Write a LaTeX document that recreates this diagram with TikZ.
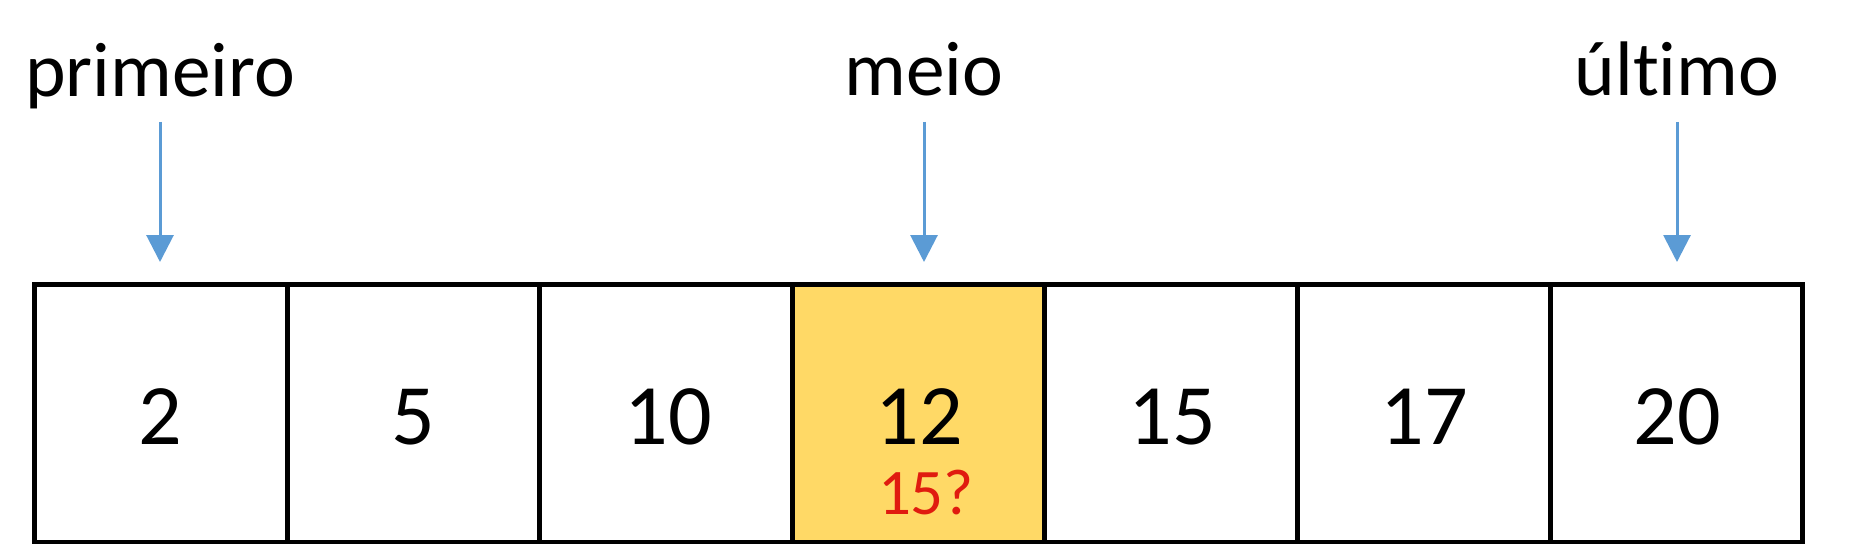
\documentclass[tikz,border=0pt]{standalone}
\usepackage{fontspec}
\setmainfont[Ligatures=NoCommon]{Carlito}
\usetikzlibrary{arrows.meta}
\definecolor{ptrblue}{HTML}{5B9BD5}
\definecolor{midyellow}{HTML}{FFD966}
\definecolor{askred}{HTML}{E01B0F}
\tikzset{
  cell/.style={draw=black, line width=5*0.02cm, minimum width=252.6*0.02cm, minimum height=258*0.02cm, inner sep=0pt},
  num/.style={inner sep=0pt, font=\fontsize{49}{54}\selectfont},
  ask/.style={inner sep=0pt, text=askred, font=\fontsize{37}{42}\selectfont},
  lbl/.style={inner sep=0pt, anchor=base, font=\fontsize{44}{50}\selectfont},
  ptr/.style={draw=ptrblue, line width=3*0.02cm, -{Triangle[width=27*0.02cm, length=27*0.02cm]}}
}
\begin{document}
\begin{tikzpicture}[x=0.02cm, y=-0.02cm]
\useasboundingbox (0,0) rectangle (1876,544);
\clip (0,0) rectangle (1876,544);
\fill[white] (0,0) rectangle (1876,544);
% cells
\node[cell] (c1) at (160.8,413.5) {};
\node[cell] (c2) at (413.4,413.5) {};
\node[cell] (c3) at (666.0,413.5) {};
\node[cell, fill=midyellow] (c4) at (918.6,413.5) {};
\node[cell] (c5) at (1171.2,413.5) {};
\node[cell] (c6) at (1423.8,413.5) {};
\node[cell] (c7) at (1676.4,413.5) {};
% numbers
\node[num] (n1) at (160,417) {2};
\node[num] (n2) at (413,417) {5};
\node[num] (n3) at (668,417) {10};
\node[num] (n4) at (919,417) {12};
\node[num] (n5) at (1172,417) {15};
\node[num] (n6) at (1424,417) {17};
\node[num] (n7) at (1677,417) {20};
\node[ask] (q) at (926,493) {15?};
% labels
\node[lbl] (l1) at (160,97) {primeiro};
\node[lbl] (l4) at (924,95) {meio};
\node[lbl] (l7) at (1677,95) {último};
% pointer arrows
\coordinate (t1) at (160,122);
\coordinate (t4) at (924,122);
\coordinate (t7) at (1677,122);
\draw[ptr, shorten >=20*0.02cm] (t1) -- (t1 |- c1.north);
\draw[ptr, shorten >=20*0.02cm] (t4) -- (t4 |- c4.north);
\draw[ptr, shorten >=20*0.02cm] (t7) -- (t7 |- c7.north);
\end{tikzpicture}
\end{document}
